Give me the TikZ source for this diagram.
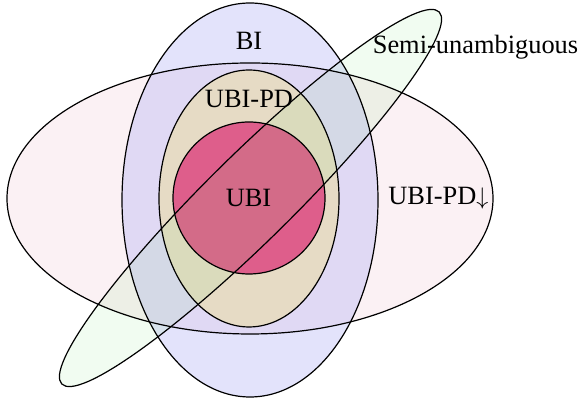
\documentclass[tikz,border=0pt]{standalone}
\usepackage{fontspec}
\setmainfont{Liberation Serif}
\definecolor{pddowncol}{RGB}{251,241,244}
\definecolor{bicol}{RGB}{175,175,244}
\definecolor{ubipdcol}{RGB}{236,222,152}
\definecolor{ubicol}{RGB}{219,41,115}
\definecolor{semicol}{RGB}{115,225,115}
\tikzset{
setfill/.style={fill=#1, draw=none},
setline/.style={draw=black, line width=.6pt},
setlabel/.style={anchor=base, inner sep=0pt},
}
\tikzstyle{every node}=[font=\fontsize{13.2}{16}\selectfont]
% the five sets, in pixel units
\newcommand{\pdDownSet}{(250,201.5) ellipse [x radius=243, y radius=135.5]}
\newcommand{\biSet}{(250,200) ellipse [x radius=128, y radius=197]}
\newcommand{\ubiPdSet}{(249,201.5) ellipse [x radius=90, y radius=128.5]}
\newcommand{\ubiSet}{(249,202) circle [radius=76]}
\newcommand{\semiSet}{(250.5,202) ellipse [x radius=265, y radius=43, rotate=44.6]}

\begin{document}
\begin{tikzpicture}[x=.5pt,y=.5pt]
    \useasboundingbox (0,0) rectangle (579,400);
    % fills
    \fill[setfill=pddowncol] \pdDownSet;
    \fill[setfill=bicol, fill opacity=.35] \biSet;
    \fill[setfill=ubipdcol, fill opacity=.5] \ubiPdSet;
    \fill[setfill=ubicol, fill opacity=.7] \ubiSet;
    \fill[setfill=semicol, fill opacity=.1] \semiSet;
    % outlines
    \draw[setline] \pdDownSet;
    \draw[setline] \biSet;
    \draw[setline] \ubiPdSet;
    \draw[setline] \ubiSet;
    \draw[setline] \semiSet;
    % labels
    \node[setlabel] (bi) at (249,350.5) {BI};
    \node[setlabel] (semi) at (475.5,346.7) {Semi-unambiguous};
    \node[setlabel] (ubipd) at (249,292) {UBI-PD};
    \node[setlabel] (ubi) at (248.5,193) {UBI};
    \node[setlabel, anchor=base west] (pddown) at (388,195) {UBI-PD$\downarrow$};
\end{tikzpicture}
\end{document}
